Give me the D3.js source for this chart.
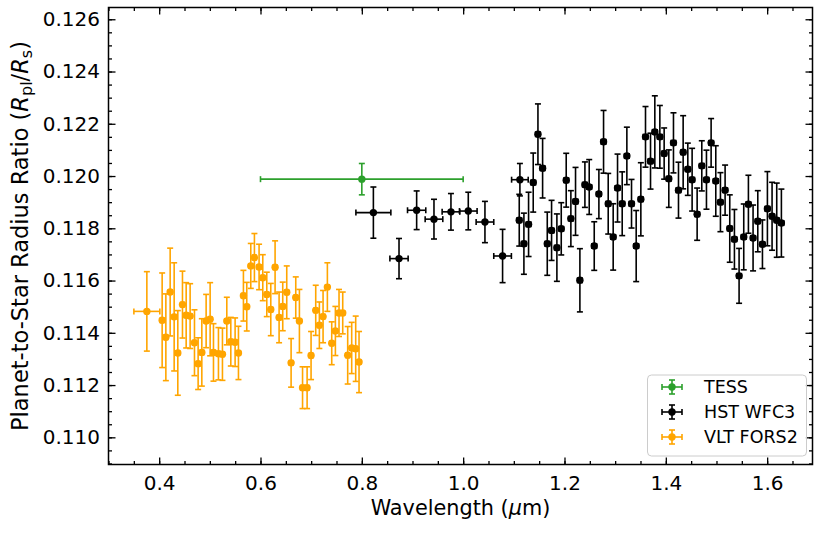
<!DOCTYPE html>
<html>
<head>
<meta charset="utf-8">
<script src="https://cdn.jsdelivr.net/npm/d3@7"></script>
<style>
  body { margin: 0; background: #fff; }
  svg { font-family: "DejaVu Sans", sans-serif; }
</style>
</head>
<body>
<script>
// TESS
var tessWl    = [0.800];
var tessWlErr = [0.200];
var tessRp    = [0.11988];
var tessErr   = [0.00060];

// HST WFC3
var hstWl = [0.8228, 0.8734, 0.9082, 0.9424, 0.9759, 1.0101, 1.0430, 1.0778, 1.1120,
  1.1107, 1.1199, 1.1291, 1.1383, 1.1476, 1.1568, 1.1660, 1.1745, 1.1850, 1.1936,
  1.2034, 1.2126, 1.2218, 1.2304, 1.2403, 1.2488, 1.2587, 1.2679, 1.2771, 1.2863,
  1.2961, 1.3047, 1.3139, 1.3231, 1.3323, 1.3415, 1.3507, 1.3599, 1.3698, 1.3783,
  1.3882, 1.3967, 1.4059, 1.4151, 1.4250, 1.4342, 1.4434, 1.4519, 1.4618, 1.4710,
  1.4802, 1.4894, 1.4986, 1.5078, 1.5170, 1.5262, 1.5354, 1.5446, 1.5538, 1.5630,
  1.5722, 1.5815, 1.5907, 1.6005, 1.6097, 1.6189, 1.6281];
var hstWlErr = [0.0345, 0.018, 0.018, 0.0174, 0.0174, 0.0174, 0.0174, 0.0174, 0.0164,
  0.0046, 0.0046, 0.0046, 0.0046, 0.0046, 0.0046, 0.0046, 0.0046, 0.0046, 0.0046,
  0.0046, 0.0046, 0.0046, 0.0046, 0.0046, 0.0046, 0.0046, 0.0046, 0.0046, 0.0046,
  0.0046, 0.0046, 0.0046, 0.0046, 0.0046, 0.0046, 0.0046, 0.0046, 0.0046, 0.0046,
  0.0046, 0.0046, 0.0046, 0.0046, 0.0046, 0.0046, 0.0046, 0.0046, 0.0046, 0.0046,
  0.0046, 0.0046, 0.0046, 0.0046, 0.0046, 0.0046, 0.0046, 0.0046, 0.0046, 0.0046,
  0.0046, 0.0046, 0.0046, 0.0046, 0.0046, 0.0046, 0.0046];
var hstRp = [0.11860, 0.11684, 0.11869, 0.11835, 0.11863, 0.11866, 0.11824, 0.11694, 0.11986,
  0.11831, 0.11741, 0.11815, 0.11975, 0.12160, 0.12030, 0.11741, 0.11792, 0.11726, 0.11798,
  0.11984, 0.11837, 0.11903, 0.11601, 0.11967, 0.11958, 0.11732, 0.11931, 0.12131, 0.11894,
  0.11767, 0.11954, 0.11894, 0.12077, 0.11894, 0.11732, 0.11911, 0.12150, 0.12057, 0.12169,
  0.12150, 0.12086, 0.11990, 0.12127, 0.11946, 0.12091, 0.12026, 0.11986, 0.11854, 0.12039,
  0.11986, 0.12127, 0.11981, 0.11900, 0.11946, 0.11799, 0.11758, 0.11618, 0.11767, 0.11892,
  0.11763, 0.11827, 0.11739, 0.11875, 0.11846, 0.11831, 0.11820];
var hstErr = [0.00098, 0.00077, 0.00074, 0.00076, 0.00070, 0.00072, 0.00079, 0.00102, 0.00062,
  0.00099, 0.00117, 0.00123, 0.00113, 0.00116, 0.00114, 0.00121, 0.00115, 0.00129, 0.00100,
  0.00103, 0.00107, 0.00130, 0.00121, 0.00087, 0.00105, 0.00093, 0.00094, 0.00120, 0.00116,
  0.00127, 0.00130, 0.00122, 0.00110, 0.00093, 0.00136, 0.00140, 0.00116, 0.00107, 0.00138,
  0.00120, 0.00098, 0.00110, 0.00115, 0.00107, 0.00140, 0.00100, 0.00120, 0.00100, 0.00096,
  0.00113, 0.00093, 0.00135, 0.00113, 0.00096, 0.00129, 0.00114, 0.00105, 0.00126, 0.00111,
  0.00126, 0.00117, 0.00093, 0.00142, 0.00130, 0.00142, 0.00130];

// VLT FORS2
var vltWl = [0.3757, 0.4059, 0.4132, 0.4217, 0.4296, 0.4368, 0.4460, 0.4533, 0.4611, 0.4697,
  0.4769, 0.4842, 0.4927, 0.5006, 0.5072, 0.5170, 0.5249, 0.5335, 0.5414, 0.5499,
  0.5565, 0.5663, 0.5729, 0.5808, 0.5880, 0.5972, 0.6045, 0.6124, 0.6203, 0.6288,
  0.6367, 0.6439, 0.6518, 0.6604, 0.6696, 0.6768, 0.6830, 0.6920, 0.6998, 0.7090,
  0.7162, 0.7235, 0.7320, 0.7406, 0.7478, 0.7550, 0.7623, 0.7721, 0.7800, 0.7879, 0.7945];
var vltWlErr = [0.0256, 0.0037, 0.0037, 0.0037, 0.0037, 0.0037, 0.0037, 0.0037, 0.0037, 0.0037,
  0.0037, 0.0037, 0.0037, 0.0037, 0.0037, 0.0037, 0.0037, 0.0037, 0.0037, 0.0037,
  0.0037, 0.0037, 0.0037, 0.0037, 0.0037, 0.0037, 0.0037, 0.0037, 0.0037, 0.0037,
  0.0037, 0.0037, 0.0037, 0.0037, 0.0037, 0.0037, 0.0037, 0.0037, 0.0037, 0.0037,
  0.0037, 0.0037, 0.0037, 0.0037, 0.0037, 0.0037, 0.0037, 0.0037, 0.0037, 0.0037, 0.0037];
var vltRp = [0.11482, 0.11448, 0.11383, 0.11556, 0.11461, 0.11323, 0.11508, 0.11467, 0.11464, 0.11362,
  0.11282, 0.11325, 0.11445, 0.11452, 0.11325, 0.11320, 0.11318, 0.11445, 0.11366, 0.11364,
  0.11323, 0.11542, 0.11500, 0.11656, 0.11688, 0.11652, 0.11611, 0.11547, 0.11489, 0.11651,
  0.11459, 0.11501, 0.11555, 0.11285, 0.11535, 0.11445, 0.11190, 0.11190, 0.11313, 0.11486,
  0.11429, 0.11462, 0.11575, 0.11360, 0.11407, 0.11476, 0.11476, 0.11314, 0.11342, 0.11339, 0.11288];
var vltErr = [0.00152, 0.00181, 0.00166, 0.00168, 0.00207, 0.00162, 0.00128, 0.00125, 0.00124, 0.00126,
  0.00099, 0.00129, 0.00102, 0.00140, 0.00110, 0.00100, 0.00100, 0.00091, 0.00093, 0.00093,
  0.00102, 0.00097, 0.00093, 0.00086, 0.00092, 0.00087, 0.00088, 0.00085, 0.00100, 0.00101,
  0.00097, 0.00093, 0.00101, 0.00093, 0.00079, 0.00121, 0.00080, 0.00080, 0.00092, 0.00096,
  0.00089, 0.00100, 0.00093, 0.00082, 0.00094, 0.00090, 0.00080, 0.00110, 0.00098, 0.00125, 0.00117];

var xTicks = [0.4, 0.6, 0.8, 1.0, 1.2, 1.4, 1.6];
var yTicks = [0.110, 0.112, 0.114, 0.116, 0.118, 0.120, 0.122, 0.124, 0.126];
var labels = ["TESS", "HST WFC3", "VLT FORS2"];
var colors = ["#2ca02c", "#000000", "#ffa500"];

///////////////////////////
// SVG + SCALES
var W = 822, H = 533;
var left = 108.5, top_ = 7.5, right = 812.5, bottom = 464.5;

var svg = d3.select("body").append("svg")
  .attr("width", W).attr("height", H);

var x = d3.scaleLinear().domain([0.3, 1.6895]).range([left, right]);
var y = d3.scaleLinear().domain([0.10896, 0.12645]).range([bottom, top_]);

var xMinor = d3.range(0.3, 1.69, 0.05).map(function(d){ return +d.toFixed(2); });
var yMinor = d3.range(0.1090, 0.1265, 0.0005).map(function(d){ return +d.toFixed(4); });

function styleAxis(g){
  g.select(".domain").remove();
  g.selectAll(".tick line").attr("stroke", "#000").attr("stroke-width", 1.3);
  g.selectAll(".tick text").attr("fill", "#000").style("font-size", "20px")
    .style("font-family", "DejaVu Sans");
}

// major ticks, inward on all four sides
svg.append("g").attr("transform", "translate(0," + bottom + ")")
  .call(d3.axisBottom(x).tickValues(xTicks).tickSize(-7).tickPadding(11).tickFormat(d3.format(".1f")))
  .call(styleAxis);
svg.append("g").attr("transform", "translate(0," + top_ + ")")
  .call(d3.axisTop(x).tickValues(xTicks).tickSize(-7).tickFormat(""))
  .call(styleAxis);
svg.append("g").attr("transform", "translate(" + left + ",0)")
  .call(d3.axisLeft(y).tickValues(yTicks).tickSize(-7).tickPadding(8.5).tickFormat(d3.format(".3f")))
  .call(styleAxis);
svg.append("g").attr("transform", "translate(" + right + ",0)")
  .call(d3.axisRight(y).tickValues(yTicks).tickSize(-7).tickFormat(""))
  .call(styleAxis);

// minor ticks
svg.append("g").attr("transform", "translate(0," + bottom + ")")
  .call(d3.axisBottom(x).tickValues(xMinor).tickSize(-3.5).tickFormat("")).call(styleAxis);
svg.append("g").attr("transform", "translate(0," + top_ + ")")
  .call(d3.axisTop(x).tickValues(xMinor).tickSize(-3.5).tickFormat("")).call(styleAxis);
svg.append("g").attr("transform", "translate(" + left + ",0)")
  .call(d3.axisLeft(y).tickValues(yMinor).tickSize(-3.5).tickFormat("")).call(styleAxis);
svg.append("g").attr("transform", "translate(" + right + ",0)")
  .call(d3.axisRight(y).tickValues(yMinor).tickSize(-3.5).tickFormat("")).call(styleAxis);

///////////////////////////
// ERROR BARS
var cap = 3;
function errorbars(wl, wlErr, rp, err, color){
  var pts = wl.map(function(d, i){
    return {x: d, xe: wlErr[i], y: rp[i], ye: err[i]};
  });
  var g = svg.append("g").attr("stroke", color).attr("stroke-width", 1.6).attr("fill", color);
  var p = g.selectAll("g").data(pts).enter().append("g");
  // horizontal
  p.append("line")
    .attr("x1", function(d){ return x(d.x - d.xe); })
    .attr("x2", function(d){ return x(d.x + d.xe); })
    .attr("y1", function(d){ return y(d.y); })
    .attr("y2", function(d){ return y(d.y); });
  // vertical
  p.append("line")
    .attr("x1", function(d){ return x(d.x); })
    .attr("x2", function(d){ return x(d.x); })
    .attr("y1", function(d){ return y(d.y - d.ye); })
    .attr("y2", function(d){ return y(d.y + d.ye); });
  // caps
  [-1, 1].forEach(function(s){
    p.append("line")
      .attr("x1", function(d){ return x(d.x) - cap; })
      .attr("x2", function(d){ return x(d.x) + cap; })
      .attr("y1", function(d){ return y(d.y + s * d.ye); })
      .attr("y2", function(d){ return y(d.y + s * d.ye); });
    p.append("line")
      .attr("x1", function(d){ return x(d.x + s * d.xe); })
      .attr("x2", function(d){ return x(d.x + s * d.xe); })
      .attr("y1", function(d){ return y(d.y) - cap; })
      .attr("y2", function(d){ return y(d.y) + cap; });
  });
  p.append("circle")
    .attr("cx", function(d){ return x(d.x); })
    .attr("cy", function(d){ return y(d.y); })
    .attr("r", 3.7).attr("stroke", "none");
}

errorbars(tessWl, tessWlErr, tessRp, tessErr, colors[0]);
errorbars(hstWl, hstWlErr, hstRp, hstErr, colors[1]);
errorbars(vltWl, vltWlErr, vltRp, vltErr, colors[2]);

// frame
svg.append("rect")
  .attr("x", left).attr("y", top_)
  .attr("width", right - left).attr("height", bottom - top_)
  .attr("fill", "none").attr("stroke", "#000").attr("stroke-width", 1.5);

///////////////////////////
// LABELS
svg.append("text")
  .attr("x", (left + right) / 2).attr("y", 515)
  .attr("text-anchor", "middle").style("font-size", "20.8px")
  .html('Wavelength (<tspan font-style="italic">μ</tspan>m)');

var yl = svg.append("text")
  .attr("transform", "translate(27.5," + ((top_ + bottom) / 2) + ") rotate(-90)")
  .attr("text-anchor", "middle").style("font-size", "22.5px");
yl.append("tspan").text("Planet-to-Star Radius Ratio (");
yl.append("tspan").attr("font-style", "italic").text("R");
yl.append("tspan").attr("dy", 4).style("font-size", "16px").text("pl");
yl.append("tspan").attr("dy", -4).text("/");
yl.append("tspan").attr("font-style", "italic").text("R");
yl.append("tspan").attr("dy", 4).style("font-size", "16px").text("s");
yl.append("tspan").attr("dy", -4).text(")");

///////////////////////////
// LEGEND
var lg = svg.append("g");
lg.append("rect")
  .attr("x", 647.5).attr("y", 375).attr("width", 159).attr("height", 81).attr("rx", 4)
  .attr("fill", "#fff").attr("fill-opacity", 0.8)
  .attr("stroke", "#cccccc").attr("stroke-width", 1);
labels.forEach(function(lab, i){
  var cy = 387 + i * 25, cx = 672;
  var e = lg.append("g").attr("stroke", colors[i]).attr("stroke-width", 1.6);
  e.append("line").attr("x1", cx - 10).attr("x2", cx + 10).attr("y1", cy).attr("y2", cy);
  e.append("line").attr("x1", cx).attr("x2", cx).attr("y1", cy - 7).attr("y2", cy + 7);
  e.append("line").attr("x1", cx - 3).attr("x2", cx + 3).attr("y1", cy - 7).attr("y2", cy - 7);
  e.append("line").attr("x1", cx - 3).attr("x2", cx + 3).attr("y1", cy + 7).attr("y2", cy + 7);
  e.append("line").attr("x1", cx - 10).attr("x2", cx - 10).attr("y1", cy - 3).attr("y2", cy + 3);
  e.append("line").attr("x1", cx + 10).attr("x2", cx + 10).attr("y1", cy - 3).attr("y2", cy + 3);
  e.append("circle").attr("cx", cx).attr("cy", cy).attr("r", 3.7)
    .attr("fill", colors[i]).attr("stroke", "none");
  lg.append("text").attr("x", 704).attr("y", cy + 6)
    .style("font-size", "17.5px").text(lab);
});
</script>
</body>
</html>
